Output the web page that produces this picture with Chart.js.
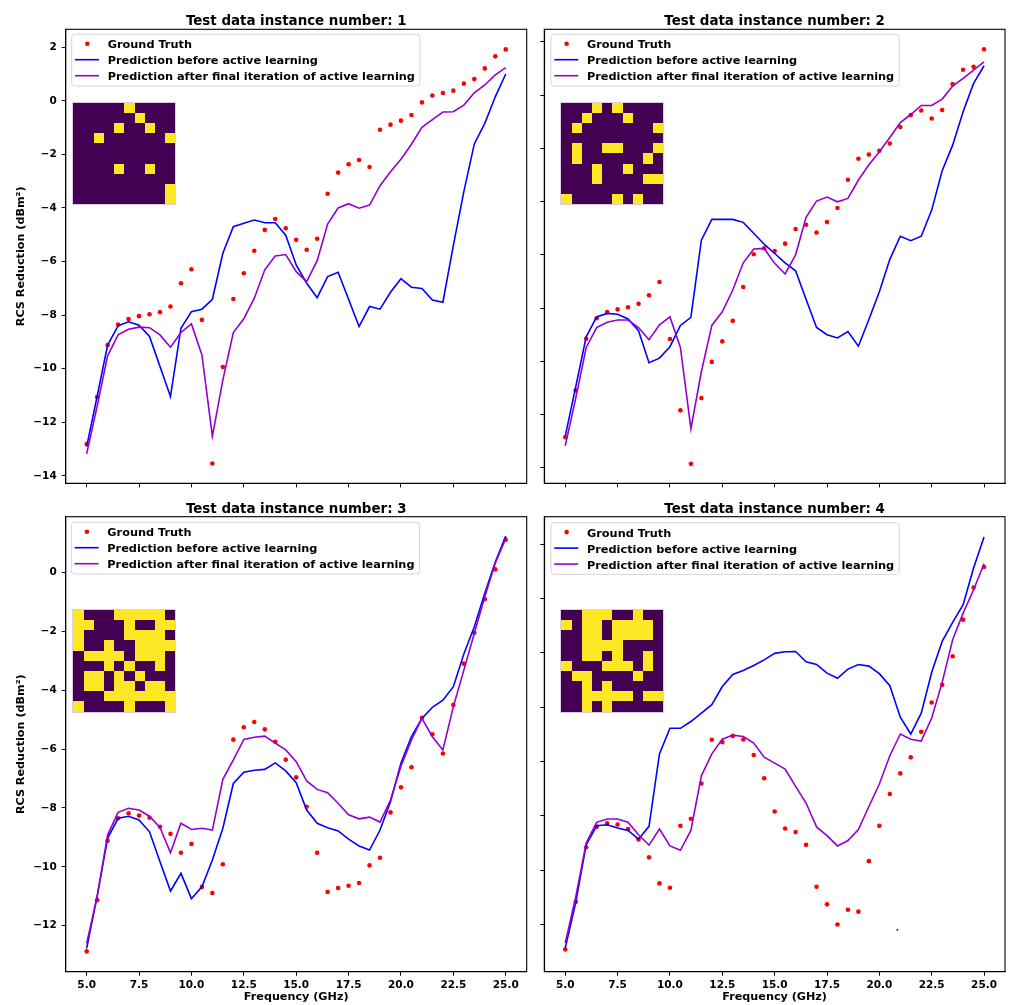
<!DOCTYPE html>
<html>
<head>
<meta charset="utf-8">
<script src="https://cdn.jsdelivr.net/npm/chart.js@4.4.1/dist/chart.umd.min.js"></script>
<style>
  html, body { margin: 0; padding: 0; background: #ffffff; }
  #fig { position: relative; width: 1009px; height: 1005px; background: #ffffff; overflow: hidden; }
  #fig canvas { position: absolute; }
</style>
</head>
<body>
<div id="fig">
  <canvas id="c1"></canvas>
  <canvas id="c2"></canvas>
  <canvas id="c3"></canvas>
  <canvas id="c4"></canvas>
</div>
<script>
// ---- Frequency grid (GHz) and axis ticks ----
const freqs = [5, 5.5, 6, 6.5, 7, 7.5, 8, 8.5, 9, 9.5, 10, 10.5, 11, 11.5, 12, 12.5, 13, 13.5, 14, 14.5,
               15, 15.5, 16, 16.5, 17, 17.5, 18, 18.5, 19, 19.5, 20, 20.5, 21, 21.5, 22, 22.5, 23, 23.5, 24, 24.5, 25];
const xTicks = [5, 7.5, 10, 12.5, 15, 17.5, 20, 22.5, 25];
const yTicks1 = [2, 0, -2, -4, -6, -8, -10, -12, -14];
const yTicks2 = [2, 0, -2, -4, -6, -8, -10, -12, -14];
const yTicks3 = [0, -2, -4, -6, -8, -10, -12];
const yTicks4 = [2, 0, -2, -4, -6, -8, -10, -12];

// ---- Instance 1 ----
const gt1 = [-12.81, -11.06, -9.12, -8.35, -8.15, -8.04, -7.97, -7.89, -7.68, -6.81, -6.29, -8.18, -13.54, -9.94, -7.40, -6.44,
             -5.60, -4.82, -4.41, -4.76, -5.19, -5.56, -5.15, -3.47, -2.68, -2.37, -2.21, -2.47, -1.08, -0.89, -0.74, -0.53,
             -0.06, 0.20, 0.29, 0.38, 0.64, 0.81, 1.21, 1.66, 1.92];
const before1 = [-12.91, -11.04, -9.12, -8.40, -8.25, -8.38, -8.80, -9.92, -11.04, -8.49, -7.87, -7.78, -7.41, -5.69, -4.70, -4.57,
                 -4.45, -4.55, -4.55, -5.02, -6.13, -6.81, -7.35, -6.56, -6.40, -7.41, -8.43, -7.68, -7.78, -7.15, -6.64, -6.96,
                 -7.01, -7.44, -7.52, -5.40, -3.39, -1.61, -0.84, 0.15, 1.00];
const after1 = [-13.18, -11.41, -9.52, -8.74, -8.53, -8.45, -8.47, -8.74, -9.20, -8.65, -8.33, -9.49, -12.53, -10.42, -8.65, -8.14,
                -7.37, -6.31, -5.79, -5.74, -6.38, -6.75, -5.97, -4.60, -4.00, -3.84, -4.01, -3.89, -3.17, -2.65, -2.18, -1.62,
                -0.99, -0.70, -0.42, -0.41, -0.16, 0.30, 0.59, 0.97, 1.24];

// ---- Instance 2 ----
const gt2 = [-12.85, -11.09, -9.15, -8.38, -8.15, -8.05, -7.97, -7.84, -7.52, -7.02, -9.16, -11.84, -13.85, -11.38, -10.02, -9.25,
             -8.48, -7.21, -5.98, -5.75, -5.86, -5.58, -5.03, -4.87, -5.16, -4.77, -4.24, -3.18, -2.39, -2.23, -2.09, -1.82,
             -1.20, -0.75, -0.58, -0.88, -0.56, 0.41, 0.95, 1.06, 1.72];
const before2 = [-12.81, -10.96, -9.08, -8.33, -8.20, -8.23, -8.41, -8.85, -10.05, -9.88, -9.45, -8.65, -8.35, -5.45, -4.67, -4.67,
                 -4.67, -4.78, -5.19, -5.60, -5.95, -6.30, -6.60, -7.67, -8.73, -9.00, -9.12, -8.88, -9.43, -8.43, -7.39, -6.17,
                 -5.30, -5.47, -5.30, -4.32, -2.84, -1.88, -0.63, 0.44, 1.10];
const after2 = [-13.17, -11.39, -9.48, -8.73, -8.53, -8.45, -8.45, -8.73, -9.19, -8.63, -8.33, -9.48, -12.53, -10.39, -8.65, -8.14,
                -7.32, -6.30, -5.78, -5.76, -6.32, -6.72, -6.00, -4.59, -3.98, -3.83, -4.01, -3.88, -3.19, -2.62, -2.13, -1.59,
                -1.03, -0.73, -0.39, -0.39, -0.15, 0.34, 0.63, 0.94, 1.25];

// ---- Instance 3 ----
const gt3 = [-12.87, -11.13, -9.11, -8.35, -8.18, -8.26, -8.33, -8.64, -8.88, -9.52, -9.22, -10.68, -10.89, -9.91, -5.68, -5.26,
             -5.08, -5.33, -5.75, -6.36, -6.96, -7.96, -9.52, -10.85, -10.72, -10.64, -10.55, -9.95, -9.69, -8.15, -7.30, -6.62,
             -4.94, -5.50, -6.15, -4.50, -3.10, -2.05, -0.91, 0.10, 1.11];
const before3 = [-12.77, -11.00, -9.03, -8.35, -8.28, -8.41, -8.81, -9.83, -10.82, -10.22, -11.08, -10.68, -9.77, -8.69, -7.17, -6.79,
                 -6.72, -6.69, -6.47, -6.74, -7.14, -8.07, -8.52, -8.67, -8.78, -9.06, -9.29, -9.43, -8.75, -7.79, -6.47, -5.58,
                 -4.96, -4.58, -4.34, -3.88, -2.77, -1.85, -0.71, 0.35, 1.23];
const after3 = [-12.60, -11.01, -8.92, -8.15, -8.01, -8.07, -8.28, -8.66, -9.52, -8.52, -8.73, -8.69, -8.75, -7.03, -6.37, -5.67,
                -5.60, -5.56, -5.80, -6.03, -6.43, -7.08, -7.37, -7.48, -7.84, -8.23, -8.37, -8.31, -8.48, -7.73, -6.58, -5.69,
                -4.96, -5.58, -6.03, -4.56, -3.32, -2.07, -0.83, 0.31, 1.15];

// ---- Instance 4 ----
const gt4 = [-12.92, -11.17, -9.16, -8.40, -8.28, -8.32, -8.49, -8.87, -9.53, -10.49, -10.65, -8.37, -8.11, -6.81, -5.20, -5.29,
             -5.06, -5.19, -5.76, -6.62, -7.84, -8.47, -8.60, -9.07, -10.61, -11.26, -12.00, -11.46, -11.53, -9.67, -8.37, -7.20,
             -6.44, -5.85, -4.91, -3.83, -3.18, -2.13, -0.78, 0.40, 1.16];
const before4 = [-12.87, -11.20, -9.07, -8.37, -8.33, -8.45, -8.54, -8.86, -8.39, -5.72, -4.78, -4.78, -4.53, -4.22, -3.91, -3.24,
                 -2.80, -2.65, -2.47, -2.26, -2.02, -1.96, -1.95, -2.33, -2.43, -2.75, -2.94, -2.60, -2.43, -2.49, -2.77, -3.21,
                 -4.37, -4.99, -4.22, -2.72, -1.58, -0.88, -0.23, 1.12, 2.26];
const after4 = [-12.68, -11.00, -9.00, -8.24, -8.12, -8.12, -8.24, -8.70, -9.08, -8.49, -9.11, -9.27, -8.54, -6.53, -5.72, -5.18,
                -5.03, -5.08, -5.32, -5.84, -6.06, -6.28, -6.92, -7.53, -8.41, -8.73, -9.11, -8.91, -8.51, -7.66, -6.83, -5.79,
                -4.99, -5.18, -5.25, -4.40, -3.09, -1.52, -0.54, 0.32, 1.28];
const strayX4 = [20.86];
const strayY4 = [-12.2];

// ---- 10x10 metasurface unit patterns (1 = metal / yellow, 0 = empty / purple) ----
const pattern1 = ["0000010000", "0000001000", "0000100100", "0010000001", "0000000000",
                  "0000000000", "0000100100", "0000000000", "0000000001", "0000000001"];
const pattern2 = ["0001010000", "0010001000", "0100000001", "0000000000", "0100110001",
                  "0100000010", "0001001000", "0001000011", "0000000000", "1000010100"];
const pattern3 = ["1000111110", "1100010011", "1000011110", "1001001111", "0111101110",
                  "0001010010", "0110101000", "0110110110", "0001111111", "1000010001"];
const pattern4 = ["0011100100", "1011011110", "0011011110", "0011110000", "0011010010",
                  "1000111010", "0110000100", "0010100000", "0011111011", "0010100000"];

const titles = ["Test data instance number: 1", "Test data instance number: 2",
                "Test data instance number: 3", "Test data instance number: 4"];
const legendLabels = ["Ground Truth", "Prediction before active learning",
                      "Prediction after final iteration of active learning"];

// ---- Styling ----
const FAMILY = "'DejaVu Sans', 'Liberation Sans', sans-serif";
const TICK_FS = 10.5, LABEL_FS = 11.2, LEGEND_FS = 11.3, TITLE_FS = 13.4;
const C_GT = '#ff0000', C_BEFORE = '#0000ff', C_AFTER = '#9400d3';
const C_EMPTY = '#440154', C_METAL = '#fde725';

const minus = v => (v < 0 ? '\u2212' + Math.abs(v) : String(v));
const pts = (xs, ys) => xs.map((x, i) => ({ x, y: ys[i] }));

// Title above each axes box, centred on the plot area
const axesTitlePlugin = {
  id: 'axesTitle',
  afterDraw(chart, args, opts) {
    const { ctx, chartArea: a } = chart;
    ctx.save();
    ctx.font = `bold ${TITLE_FS}px ${FAMILY}`;
    ctx.fillStyle = '#000';
    ctx.textAlign = 'center';
    ctx.textBaseline = 'alphabetic';
    ctx.fillText(opts.text, (a.left + a.right) / 2, a.top - 4);
    ctx.restore();
  }
};

// Full box frame around the plot area
const framePlugin = {
  id: 'frame',
  afterDatasetsDraw(chart) {
    const { ctx, chartArea: a } = chart;
    ctx.save();
    ctx.strokeStyle = '#000';
    ctx.lineWidth = 1.1;
    ctx.strokeRect(a.left, a.top, a.right - a.left, a.bottom - a.top);
    ctx.restore();
  }
};

// Binary unit-cell pattern drawn as a small inset image (cells snapped to whole pixels)
const insetPlugin = {
  id: 'inset',
  afterDatasetsDraw(chart, args, opts) {
    const { ctx, chartArea: a } = chart;
    const rows = opts.pattern;
    const n = rows.length;
    const x0 = a.left + opts.dx, y0 = a.top + opts.dy;
    const xe = k => Math.round(x0 + k * opts.w / n);
    const ye = k => Math.round(y0 + k * opts.h / n);
    ctx.save();
    ctx.fillStyle = C_EMPTY;
    ctx.fillRect(xe(0), ye(0), xe(n) - xe(0), ye(n) - ye(0));
    ctx.fillStyle = C_METAL;
    for (let r = 0; r < n; r++) {
      for (let c = 0; c < rows[r].length; c++) {
        if (rows[r][c] === '1') ctx.fillRect(xe(c), ye(r), xe(c + 1) - xe(c), ye(r + 1) - ye(r));
      }
    }
    ctx.strokeStyle = 'rgba(180,160,200,0.5)';
    ctx.lineWidth = 1;
    ctx.strokeRect(xe(0) - 0.5, ye(0) - 0.5, xe(n) - xe(0) + 1, ye(n) - ye(0) + 1);
    ctx.restore();
  }
};

// Legend box in the upper-left corner of each plot
const legendPlugin = {
  id: 'boxLegend',
  afterDraw(chart, args, opts) {
    const { ctx, chartArea: a } = chart;
    const ds = chart.data.datasets;
    ctx.save();
    ctx.font = `bold ${LEGEND_FS}px ${FAMILY}`;
    const textW = Math.max(...legendLabels.map(t => ctx.measureText(t).width));
    const x0 = a.left + opts.dx, y0 = a.top + opts.dy;
    const w = 36 + textW + 5, h = 51.7, r = 3;
    ctx.beginPath();
    ctx.moveTo(x0 + r, y0);
    ctx.lineTo(x0 + w - r, y0);
    ctx.arcTo(x0 + w, y0, x0 + w, y0 + r, r);
    ctx.lineTo(x0 + w, y0 + h - r);
    ctx.arcTo(x0 + w, y0 + h, x0 + w - r, y0 + h, r);
    ctx.lineTo(x0 + r, y0 + h);
    ctx.arcTo(x0, y0 + h, x0, y0 + h - r, r);
    ctx.lineTo(x0, y0 + r);
    ctx.arcTo(x0, y0, x0 + r, y0, r);
    ctx.closePath();
    ctx.fillStyle = 'rgba(255,255,255,0.8)';
    ctx.fill();
    ctx.strokeStyle = '#d6d6d6';
    ctx.lineWidth = 1;
    ctx.stroke();
    for (let i = 0; i < 3; i++) {
      const cy = y0 + 9.4 + i * 16;
      const d = ds[i];
      if (i === 0) {
        ctx.beginPath();
        ctx.arc(x0 + 15.6, cy, d.pointRadius, 0, Math.PI * 2);
        ctx.fillStyle = d.pointBackgroundColor;
        ctx.fill();
      } else {
        ctx.beginPath();
        ctx.moveTo(x0 + 3.3, cy);
        ctx.lineTo(x0 + 27.3, cy);
        ctx.strokeStyle = d.borderColor;
        ctx.lineWidth = d.borderWidth;
        ctx.stroke();
      }
      ctx.fillStyle = '#000';
      ctx.textAlign = 'left';
      ctx.textBaseline = 'alphabetic';
      ctx.fillText(legendLabels[i], x0 + 36, cy + 4.5);
    }
    ctx.restore();
  }
};

const panels = [
  { id: 'c1', left: 0, top: 0, width: 536, height: 500, area: { l: 65.7, t: 29.3, r: 526.7, b: 483.3 },
    gt: gt1, before: before1, after: after1, yMin: -14.28, yMax: 2.67, yTicks: yTicks1,
    showX: false, showY: true, title: titles[0], pattern: pattern1,
    inset: { dx: 7.6, dy: 73.4 }, legend: { dx: 6, dy: 5 } },
  { id: 'c2', left: 536, top: 0, width: 473, height: 500, area: { l: 8.3, t: 29.3, r: 469, b: 483.3 },
    gt: gt2, before: before2, after: after2, yMin: -14.58, yMax: 2.47, yTicks: yTicks2,
    showX: false, showY: false, title: titles[1], pattern: pattern2,
    inset: { dx: 17, dy: 73.4 }, legend: { dx: 6.7, dy: 5 } },
  { id: 'c3', left: 0, top: 500, width: 536, height: 505, area: { l: 65.7, t: 16.7, r: 526.7, b: 471.7 },
    gt: gt3, before: before3, after: after3, yMin: -13.56, yMax: 1.89, yTicks: yTicks3,
    showX: true, showY: true, title: titles[2], pattern: pattern3,
    inset: { dx: 7.6, dy: 93.3 }, legend: { dx: 5.6, dy: 5.6 } },
  { id: 'c4', left: 536, top: 500, width: 473, height: 505, area: { l: 8.3, t: 16.7, r: 469, b: 471.7 },
    gt: gt4, before: before4, after: after4, yMin: -13.74, yMax: 3.01, yTicks: yTicks4,
    showX: true, showY: false, title: titles[3], pattern: pattern4,
    inset: { dx: 17, dy: 93.3 }, legend: { dx: 6.7, dy: 6 },
    extra: { xs: strayX4, ys: strayY4 } }
];

const axisGrid = { drawOnChartArea: false, drawTicks: true, tickLength: 4, color: '#000', lineWidth: 1 };
const axisBorder = { display: true, color: '#000', width: 1.1 };

panels.forEach(p => {
  const cv = document.getElementById(p.id);
  cv.width = p.width; cv.height = p.height;
  cv.style.left = p.left + 'px'; cv.style.top = p.top + 'px';
  cv.style.width = p.width + 'px'; cv.style.height = p.height + 'px';

  const xH = p.height - p.area.b;
  const yW = p.area.l;

  const datasets = [
    { label: legendLabels[0], data: pts(freqs, p.gt), showLine: false, pointRadius: 2.3,
      pointBackgroundColor: C_GT, pointBorderColor: C_GT, pointBorderWidth: 0, borderColor: C_GT, order: 3 },
    { label: legendLabels[1], data: pts(freqs, p.before), borderColor: C_BEFORE, borderWidth: 1.6,
      pointRadius: 0, tension: 0, fill: false, order: 2 },
    { label: legendLabels[2], data: pts(freqs, p.after), borderColor: C_AFTER, borderWidth: 1.6,
      pointRadius: 0, tension: 0, fill: false, order: 1 }
  ];
  if (p.extra) {
    datasets.push({ label: '', data: pts(p.extra.xs, p.extra.ys), showLine: false, pointRadius: 1.1,
      pointBackgroundColor: '#3c3a8a', pointBorderWidth: 0, borderColor: '#3c3a8a', order: 0 });
  }

  new Chart(cv, {
    type: 'line',
    data: { datasets },
    plugins: [framePlugin, insetPlugin, legendPlugin, axesTitlePlugin],
    options: {
      responsive: false,
      animation: false,
      devicePixelRatio: 1,
      events: [],
      layout: { padding: { left: 0, top: p.area.t, right: p.width - p.area.r, bottom: 0 } },
      plugins: {
        legend: { display: false },
        tooltip: { enabled: false },
        title: { display: false },
        axesTitle: { text: p.title },
        inset: { pattern: p.pattern, dx: p.inset.dx, dy: p.inset.dy, w: 102, h: 101.5 },
        boxLegend: { dx: p.legend.dx, dy: p.legend.dy }
      },
      scales: {
        x: {
          type: 'linear', min: 4, max: 26,
          afterBuildTicks: s => { s.ticks = xTicks.map(v => ({ value: v })); },
          afterFit: s => { s.height = xH; },
          grid: axisGrid, border: axisBorder,
          ticks: { display: p.showX, color: '#000', padding: 3, maxRotation: 0, autoSkip: false,
                   font: { family: FAMILY, size: TICK_FS, weight: 'bold' },
                   callback: v => Number(v).toFixed(1) },
          title: { display: p.showX, text: 'Frequency (GHz)', color: '#000',
                   font: { family: FAMILY, size: LABEL_FS, weight: 'bold' },
                   padding: { top: 0, bottom: 1.3 } }
        },
        y: {
          type: 'linear', min: p.yMin, max: p.yMax,
          afterBuildTicks: s => { s.ticks = p.yTicks.map(v => ({ value: v })); },
          afterFit: s => { s.width = yW; },
          grid: axisGrid, border: axisBorder,
          ticks: { display: p.showY, color: '#000', padding: 5, autoSkip: false,
                   font: { family: FAMILY, size: TICK_FS, weight: 'bold' },
                   callback: v => minus(v) },
          title: { display: p.showY, text: 'RCS Reduction (dBm\u00B2)', color: '#000',
                   font: { family: FAMILY, size: LABEL_FS, weight: 'bold' },
                   padding: { top: 14.8, bottom: 0 } }
        }
      }
    }
  });
});
</script>
</body>
</html>
